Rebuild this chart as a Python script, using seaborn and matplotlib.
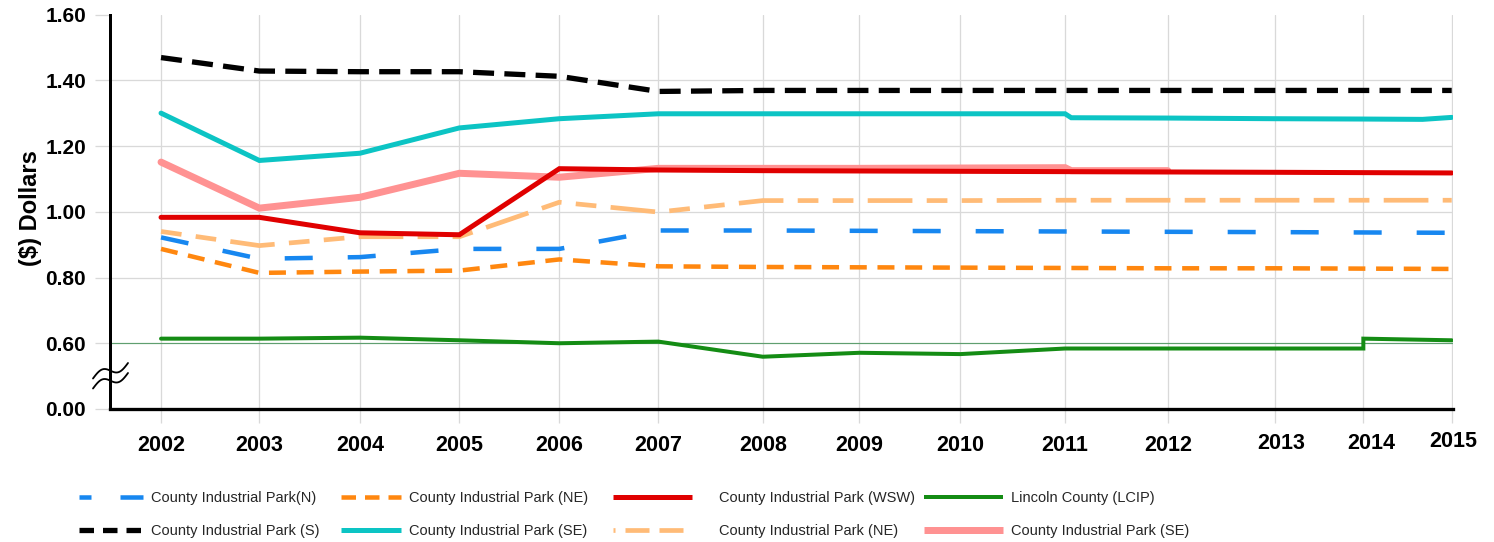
import numpy as np
import matplotlib
matplotlib.use("Agg")
import matplotlib.pyplot as plt
import matplotlib.transforms as mtransforms
import seaborn as sns
from matplotlib.lines import Line2D

# ---------------- data ----------------
years = [2002, 2003, 2004, 2005, 2006, 2007, 2008, 2009, 2010, 2011, 2012, 2013, 2014, 2015]
# horizontal placement of each year on the reference's (irregular) category axis
year_pos = [2002.0, 2002.99, 2004.004, 2005.005, 2006.012, 2007.009, 2008.061,
            2009.034, 2010.051, 2011.106, 2012.14, 2013.224, 2014.11, 2015.0]
year_labels = [str(y) for y in years]

y_ticks = [0.4, 0.6, 0.8, 1.0, 1.2, 1.4, 1.6]
y_tick_labels = ["0.00", "0.60", "0.80", "1.00", "1.20", "1.40", "1.60"]

n_years = years
n_vals = [0.922, 0.857, 0.862, 0.887, 0.887, 0.943, 0.943, 0.942, 0.941, 0.940, 0.939, 0.938, 0.937, 0.936]

ne_years = years
ne_vals = [0.887, 0.814, 0.818, 0.821, 0.855, 0.834, 0.832, 0.831, 0.830, 0.829, 0.828, 0.828, 0.827, 0.826]

wsw_years = years
wsw_vals = [0.983, 0.983, 0.936, 0.930, 1.131, 1.127, 1.125, 1.124, 1.123, 1.122, 1.121, 1.120, 1.119, 1.118]

lcip_years = [2002, 2003, 2004, 2005, 2006, 2007, 2008, 2009, 2010, 2011, 2012, 2013, 2014, 2014, 2015]
lcip_vals = [0.614, 0.614, 0.617, 0.609, 0.600, 0.605, 0.559, 0.571, 0.567, 0.584, 0.584, 0.584, 0.584, 0.614, 0.609]

s_years = years
s_vals = [1.469, 1.428, 1.426, 1.426, 1.412, 1.366, 1.369, 1.369, 1.369, 1.369, 1.369, 1.369, 1.369, 1.369]

se_years = [2002, 2003, 2004, 2005, 2006, 2007, 2008, 2009, 2010, 2011, 2011.06, 2012, 2013, 2014, 2014.67, 2015]
se_vals = [1.300, 1.156, 1.178, 1.255, 1.283, 1.298, 1.298, 1.298, 1.298, 1.298, 1.286, 1.285, 1.283, 1.282, 1.281, 1.287]

ne2_years = years
ne2_vals = [0.940, 0.897, 0.924, 0.924, 1.029, 0.999, 1.034, 1.034, 1.034, 1.035, 1.035, 1.035, 1.035, 1.035]

se2_years = [2002, 2003, 2004, 2005, 2006, 2007, 2008, 2009, 2010, 2011, 2011.06, 2012]
se2_vals = [1.151, 1.011, 1.044, 1.117, 1.105, 1.132, 1.132, 1.132, 1.133, 1.134, 1.125, 1.125]

# ---------------- style ----------------
sns.set_theme(style="white")
plt.rcParams["font.family"] = ["Liberation Sans", "DejaVu Sans"]

W, H, DPI = 1494, 542, 100
PX = 72.0 / DPI  # points per pixel

def dash(lw_px, pattern_px, offset_px=0):
    return (offset_px / lw_px, tuple(p / lw_px for p in pattern_px))

series = [
    # key, label, years, vals, color, lw(px), linestyle, legend linestyle, zorder
    ("lcip", "Lincoln County (LCIP)", lcip_years, lcip_vals, "#148c14", 4.0, "-", "-", 3),
    ("ne", "County Industrial Park (NE)", ne_years, ne_vals, "#ff870f", 4.5,
     dash(4.5, [17, 10.7]), dash(4.5, [14.5, 9]), 4),
    ("n", "County Industrial Park(N)", n_years, n_vals, "#1787f0", 4.5,
     dash(4.5, [28, 35]), dash(4.5, [23, 29], 11), 5),
    ("ne2", "County Industrial Park (NE)", ne2_years, ne2_vals, "#ffbb77", 4.7,
     dash(4.7, [20.7, 14.3, 20.7, 14.3, 44.7, 14.3]), dash(4.7, [24, 10], 22), 6),
    ("se2", "County Industrial Park (SE)", se2_years, se2_vals, "#ff9292", 7.0, "-", "-", 7),
    ("se", "County Industrial Park (SE)", se_years, se_vals, "#0cc4c4", 5.0, "-", "-", 8),
    ("wsw", "County Industrial Park (WSW)", wsw_years, wsw_vals, "#e00000", 5.0, "-", "-", 9),
    ("s", "County Industrial Park (S)", s_years, s_vals, "#000000", 5.3,
     dash(5.3, [21, 10.3]), dash(5.3, [14.5, 9]), 10),
]

fig = plt.figure(figsize=(W / DPI, H / DPI), dpi=DPI)
ax_l, ax_r, ax_t, ax_b = 110, 1453, 14.5, 409
ax = fig.add_axes([ax_l / W, 1 - ax_b / H, (ax_r - ax_l) / W, (ax_b - ax_t) / H])

handles = {}
for key, label, yrs, vals, color, lw, ls, lls, z in series:
    xpos = np.interp(yrs, years, year_pos)
    sns.lineplot(x=xpos, y=vals, ax=ax, color=color, linewidth=lw * PX,
                 linestyle=ls, estimator=None, sort=False, zorder=z,
                 solid_joinstyle="miter", dash_capstyle="butt", legend=False)
    handles[key] = Line2D([], [], color=color, linewidth=lw * PX, linestyle=lls,
                          dash_capstyle="butt", solid_capstyle="butt", label=label)

# thin green reference line at 0.60
ax.axhline(0.6, color="#5f9f6f", linewidth=1.0 * PX * 1.2, zorder=2)

ax.set_xlim(2001.486, 2015.013)
ax.set_ylim(0.4, 1.6)
ax.set_xticks(year_pos)
ax.set_xticklabels(year_labels)
ax.set_yticks(y_ticks)
ax.set_yticklabels(y_tick_labels)

grid_c = "#d9d9d9"
ax.grid(True, color=grid_c, linewidth=1.0 * PX * 1.3, zorder=0)
ax.set_axisbelow(True)
ygl = ax.yaxis.get_gridlines()
ygl[-1].set_visible(False)   # no line at 1.60
ygl[1].set_visible(False)    # 0.60 drawn in green instead

ax.tick_params(axis="y", which="major", left=True, length=15 * PX, width=1.3 * PX,
               color=grid_c, pad=9 * PX, labelsize=15, labelcolor="black")
ax.tick_params(axis="x", which="major", bottom=True, length=14 * PX, width=1.3 * PX,
               color=grid_c, pad=12 * PX, labelsize=15.5, labelcolor="black")
yticklines = ax.yaxis.get_ticklines()
yticklines[2].set_color("#5f9f6f")
for lab in ax.get_xticklabels() + ax.get_yticklabels():
    lab.set_fontweight("bold")

# small label nudges seen in the reference (2013, 2014, 2015)
nudges = {11: (6, 2), 12: (8, 2), 13: (2, 4)}
for i, lab in enumerate(ax.get_xticklabels()):
    if i in nudges:
        dx, dy = nudges[i]
        lab.set_transform(lab.get_transform() +
                          mtransforms.ScaledTranslation(dx / DPI, dy / DPI, fig.dpi_scale_trans))

for side in ["top", "right"]:
    ax.spines[side].set_visible(False)
ax.spines["left"].set_color("black")
ax.spines["left"].set_linewidth(3.0 * PX)
ax.spines["bottom"].set_color("black")
ax.spines["bottom"].set_linewidth(3.3 * PX)
ax.spines["left"].set_zorder(20)
ax.spines["bottom"].set_zorder(20)

# y-axis label
fig.text(30 / W, 1 - 208 / H, "($) Dollars", rotation=90, ha="center", va="center",
         fontsize=17, fontweight="bold", color="black")

# axis-break squiggles
t = np.linspace(0, 1, 60)
for y0 in (378.5, 388.5):
    xs = 93 + 35 * t
    ys = y0 - 15.5 * t - 5.0 * np.sin(2 * np.pi * t)
    fig.add_artist(Line2D(xs / W, 1 - ys / H, transform=fig.transFigure,
                          color="black", linewidth=1.4 * PX * 1.3, zorder=30))

# legend: four columns of two rows
fs = 10.5
fs_px = fs / PX
cols = [
    (["n", "s"], 79, 64, 8),
    (["ne", "se"], 341, 60, 8),
    (["wsw", "ne2"], 613, 79, 27),
    (["lcip", "se2"], 924, 79, 8),
]
for keys, x0, hl, gap in cols:
    leg = fig.legend(handles=[handles[k] for k in keys], loc="center left",
                     bbox_to_anchor=(x0 / W, 1 - 514.5 / H), frameon=False,
                     fontsize=fs, handlelength=hl / fs_px, handletextpad=gap / fs_px,
                     borderpad=0, borderaxespad=0, labelspacing=1.35)

fig.savefig("out.png", dpi=DPI, facecolor="white")
